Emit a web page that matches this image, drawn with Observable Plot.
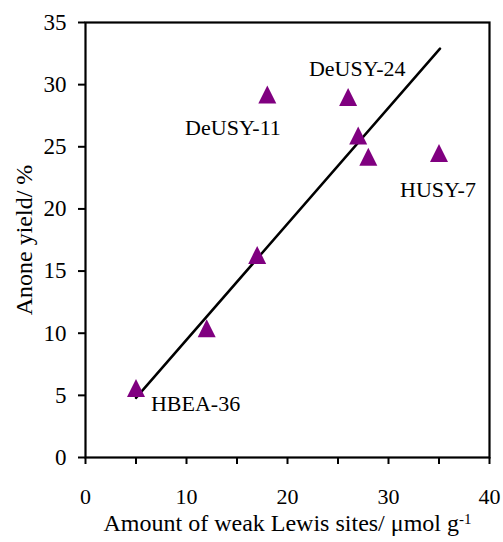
<!DOCTYPE html>
<html>
<head>
<meta charset="utf-8">
<script src="https://cdn.jsdelivr.net/npm/d3@7"></script>
<script src="https://cdn.jsdelivr.net/npm/@observablehq/plot@0.6"></script>
<style>
  html, body { margin: 0; padding: 0; background: #fff; }
  #chart { width: 503px; height: 542px; }
</style>
</head>
<body>
<div id="chart"></div>
<script>
// Data
const sampleX = [5, 12, 17, 18, 26, 27, 28, 35];
const sampleY = [5.6, 10.4, 16.3, 29.2, 29.0, 25.9, 24.2, 24.5];

// Fitted line end points
const fitX = [5, 35.1];
const fitY = [4.8, 32.9];

// Annotations
const labelText = ["DeUSY-11", "DeUSY-24", "HUSY-7", "HBEA-36"];
const labelX = [14.6, 26.9, 34.9, 10.9];
const labelY = [26.5, 31.3, 21.5, 4.3];

// Ticks
const xTicks = [0, 5, 10, 15, 20, 25, 30, 35, 40];
const xTickLabels = ["0", "", "10", "", "20", "", "30", "", "40"];
const yTicks = [0, 5, 10, 15, 20, 25, 30, 35];

const xTitle = "Amount of weak Lewis sites/ \u03bcmol g";
const xTitleSup = "-1";
const yTitle = "Anone yield/ %";

const points = sampleX.map((x, i) => ({x, y: sampleY[i]}));
const fit = fitX.map((x, i) => ({x, y: fitY[i]}));
const labels = labelText.map((t, i) => ({t, x: labelX[i], y: labelY[i]}));

const triangle = {
  draw(context, size) {
    const r = Math.sqrt(size / Math.PI);
    context.moveTo(0, -r);
    context.lineTo(r, r);
    context.lineTo(-r, r);
    context.closePath();
  }
};

const plot = Plot.plot({
  width: 503,
  height: 542,
  marginLeft: 85,
  marginRight: 14,
  marginTop: 22,
  marginBottom: 85,
  style: {fontFamily: "'Liberation Serif', 'Times New Roman', serif", fontSize: "22px", color: "#000", background: "#fff"},
  x: {domain: [0, 40]},
  y: {domain: [0, 35]},
  marks: [
    Plot.frame({stroke: "#000", strokeWidth: 2.2}),
    Plot.axisX({
      ticks: xTicks, tickSize: 7, tickPadding: 24, strokeWidth: 2,
      tickFormat: (d) => xTickLabels[xTicks.indexOf(d)], label: null, fontSize: 22
    }),
    Plot.axisY({
      ticks: yTicks, tickSize: 7, tickPadding: 12, strokeWidth: 2,
      tickFormat: (d) => String(d), label: null, fontSize: 23
    }),
    Plot.line(fit, {x: "x", y: "y", stroke: "#000", strokeWidth: 2.5}),
    Plot.dot(points, {x: "x", y: "y", r: 9, symbol: triangle, fill: "#800080", stroke: "none"}),
    Plot.text(labels, {x: "x", y: "y", text: "t", fontSize: 22, fill: "#000"}),
    Plot.text([yTitle], {frameAnchor: "left", textAnchor: "middle", lineAnchor: "middle", dx: -61, rotate: -90, fontSize: 24, fill: "#000"}),
    Plot.text([xTitle], {frameAnchor: "bottom", textAnchor: "middle", lineAnchor: "middle", dy: 66, fontSize: 24, fill: "#000"})
  ]
});

document.getElementById("chart").appendChild(plot);

// add superscript to x title
d3.select(plot).selectAll("text")
  .filter(function () { return this.textContent === xTitle; })
  .each(function () {
    const t = d3.select(this);
    t.text(null);
    t.append("tspan").text(xTitle);
    t.append("tspan").attr("dy", "-0.5em").attr("font-size", "15px").text(xTitleSup);
  });
</script>
</body>
</html>
